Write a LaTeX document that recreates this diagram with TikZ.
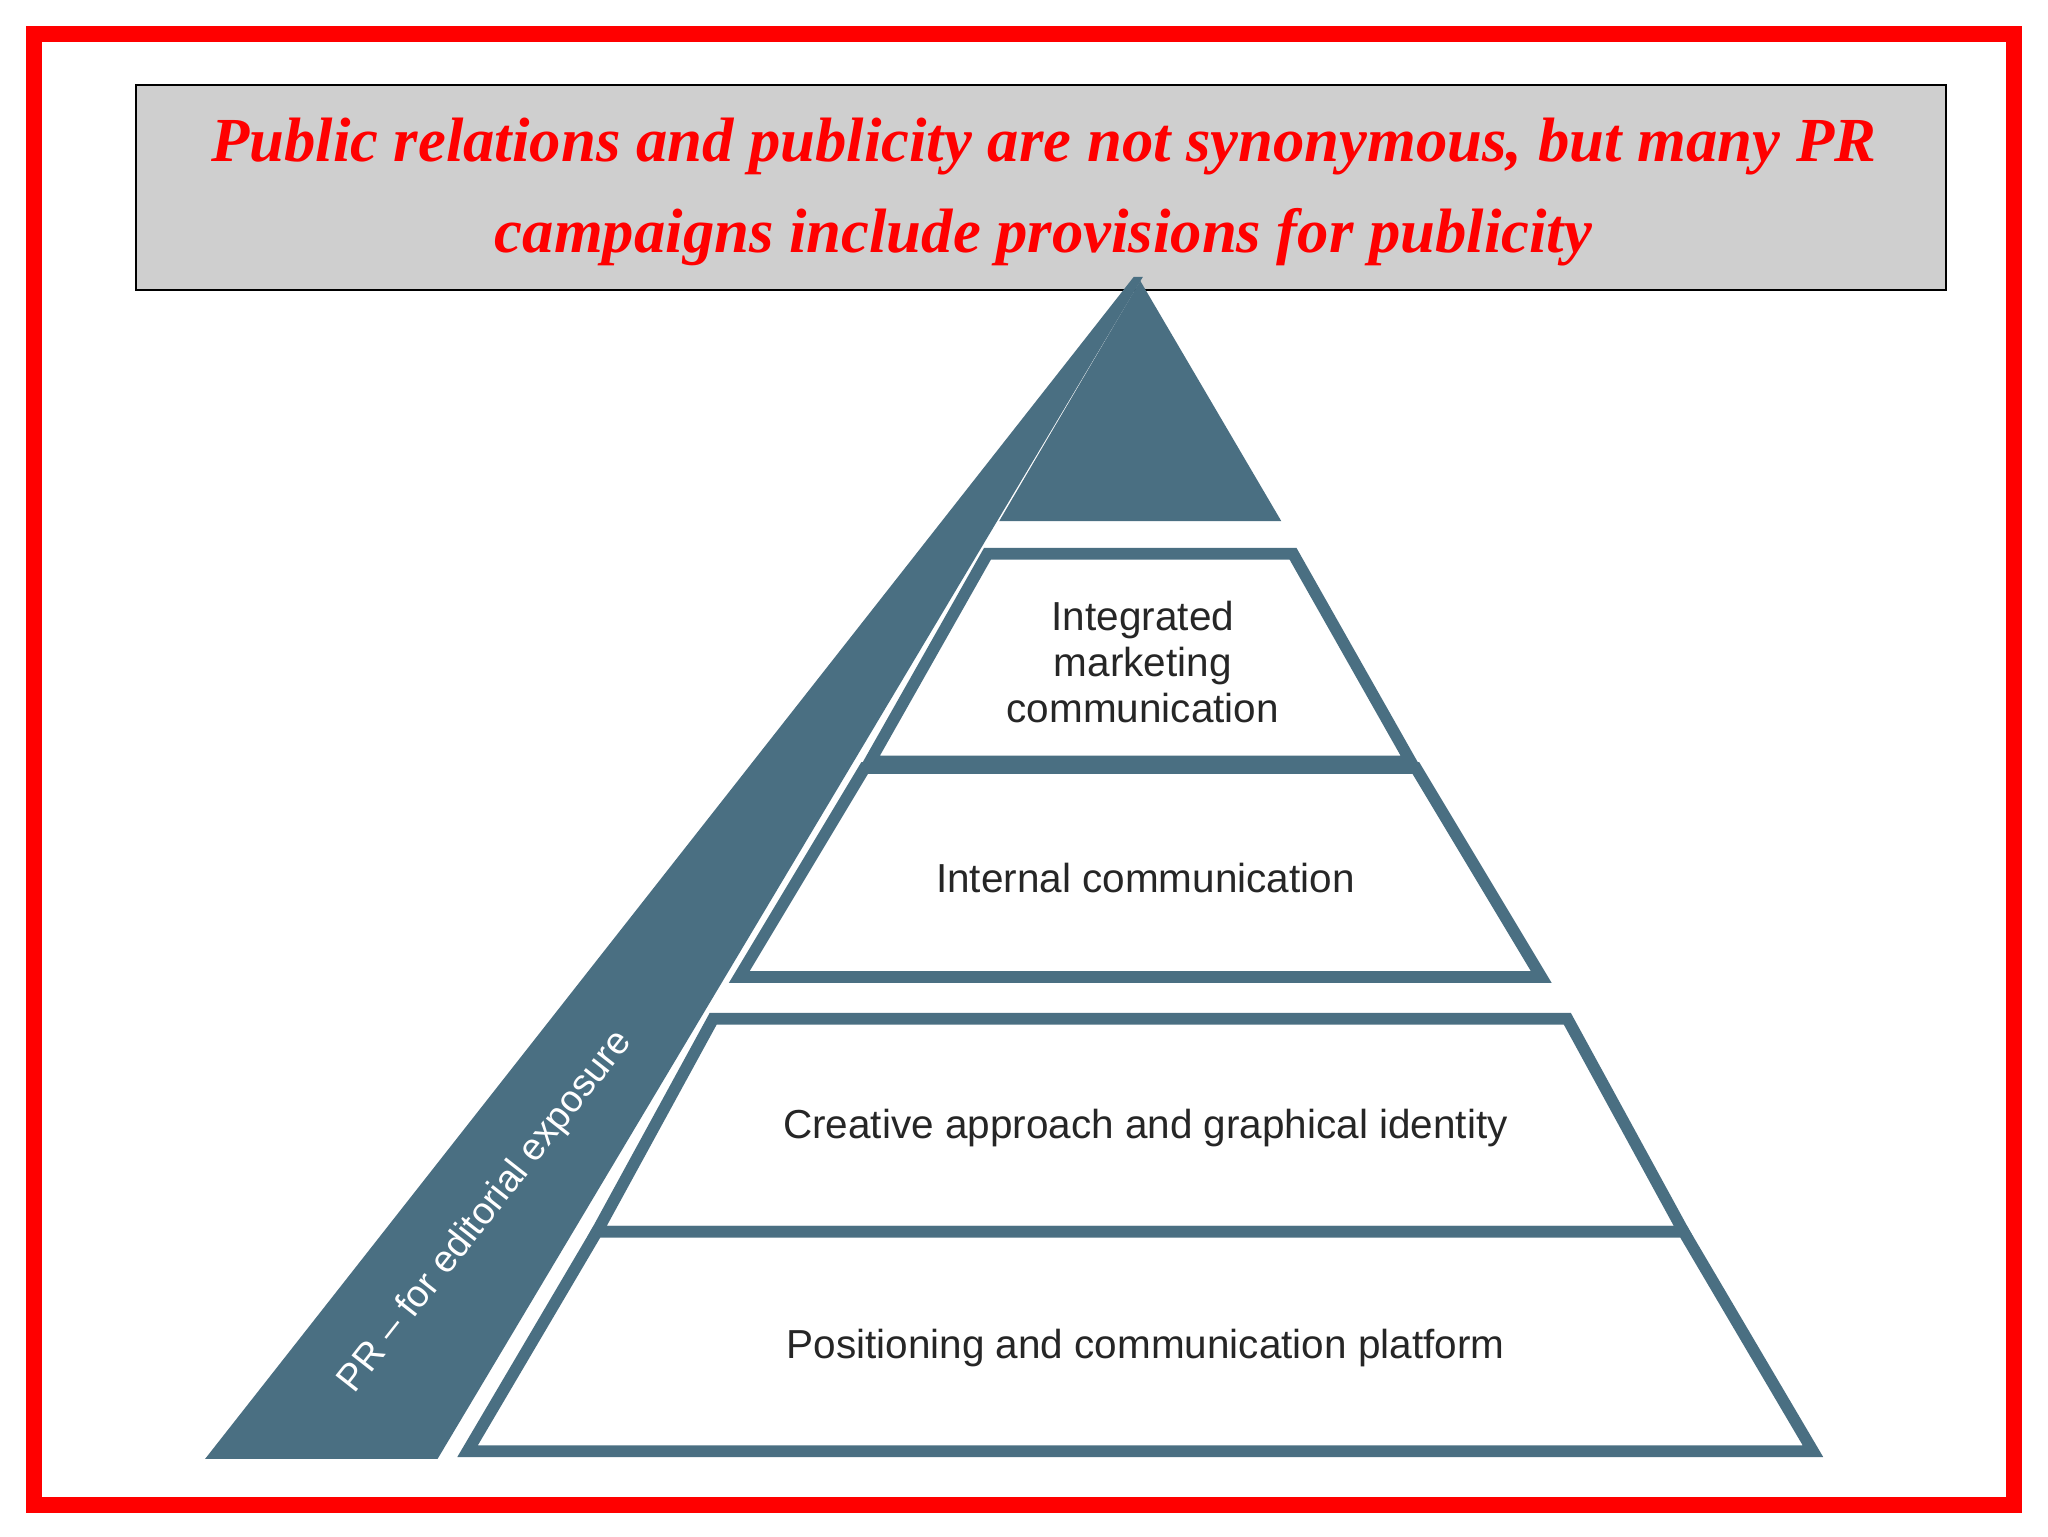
\documentclass[tikz,border=0pt]{standalone}
\usepackage{fontspec}
\setmainfont{Liberation Serif}
\newfontfamily\lsans{Liberation Sans}
\begin{document}
\begin{tikzpicture}[x=1pt,y=-1pt]
\definecolor{teal}{HTML}{4A6F82}
\definecolor{tgray}{HTML}{CFCFCF}
\tikzset{tier/.style={draw=teal,line width=9pt,fill=white,line join=miter},
 lbl/.style={font=\lsans\fontsize{31}{35}\selectfont,align=center,text=black!85}}
\useasboundingbox (0,0) rectangle (1568,1176);
\fill[white] (0,0) rectangle (1568,1176);
\draw[red,line width=12pt] (26,26) rectangle (1542,1152);
\node[draw=black,line width=1.5pt,fill=tgray,minimum width=1386pt,minimum height=157pt,inner sep=0pt] (title) at (797,143.5) {};
\node[text=red,font=\bfseries\itshape\fontsize{48}{70}\selectfont,align=center] (tt) at (799,147) {Public relations and publicity are not synonymous, but many PR\\campaigns include provisions for publicity};
% left band
\fill[teal] (157,1117) -- (868,212) -- (875,212) -- (335,1117) -- cycle;
% top triangle
\fill[teal] (765,399) -- (981,399) -- (873,215) -- cycle;
\draw[tier] (756,424) -- (990,424) -- (1080,583) -- (666,583) -- cycle;
\draw[tier] (662,588) -- (1084,588) -- (1180,748) -- (566,748) -- cycle;
\draw[tier] (546,780) -- (1200,780) -- (1289,943) -- (457,943) -- cycle;
\draw[tier] (457,943) -- (1289,943) -- (1388,1111) -- (358,1111) -- cycle;
\node[lbl] (l1) at (875,507) {Integrated\\marketing\\communication};
\node[lbl] (l2) at (877,672) {Internal communication};
\node[lbl] (l3) at (877,864) {Creative approach and graphical identity};
\node[lbl] (l4) at (877,1032) {Positioning and communication platform};
\node[text=white,font=\lsans\fontsize{29}{30}\selectfont,rotate=51.8] (pr) at (372,928) {PR – for editorial exposure};
\end{tikzpicture}
\end{document}
